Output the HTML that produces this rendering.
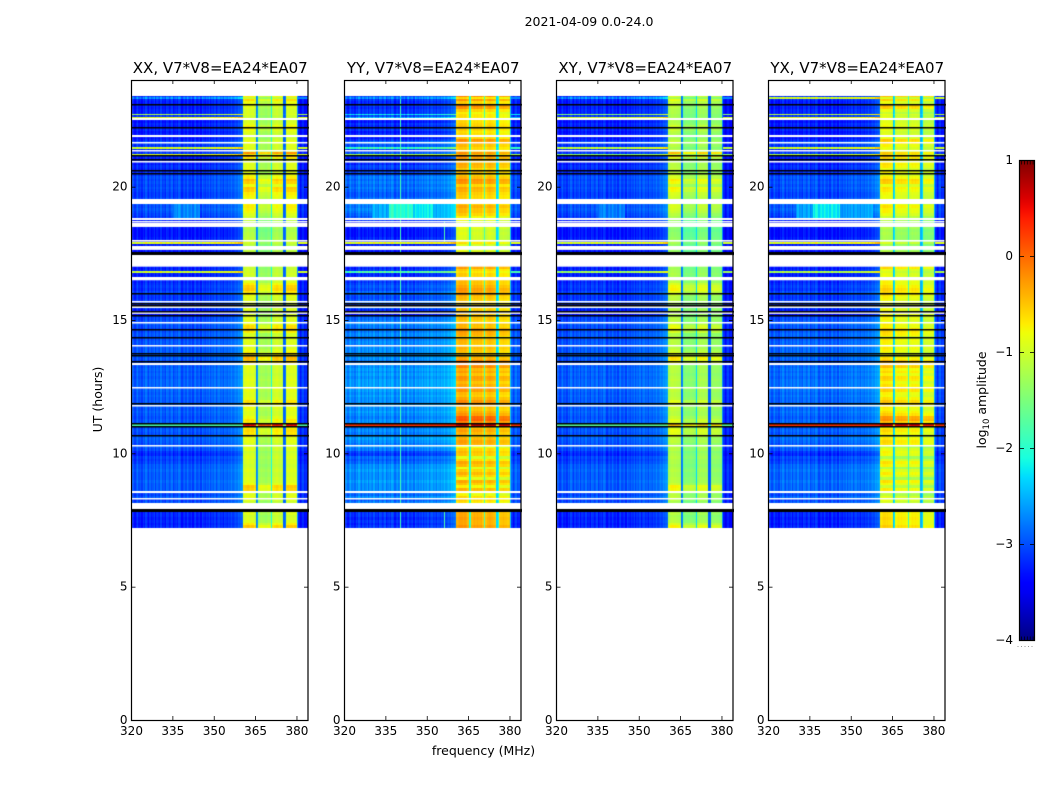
<!DOCTYPE html>
<html>
<head>
<meta charset="utf-8">
<title>2021-04-09 0.0-24.0</title>
<style>
html,body{margin:0;padding:0;background:#fff;width:1050px;height:800px;overflow:hidden}
#figure{position:relative;width:1050px;height:800px}
canvas{position:absolute;display:block}
svg{position:absolute;left:0;top:0}
text{font-family:"DejaVu Sans","Liberation Sans",sans-serif;fill:#000}
</style>
</head>
<body>
<div id="figure">
<canvas id="heat-0" style="left:131px;top:80px" width="178" height="640"></canvas>
<canvas id="heat-1" style="left:344px;top:80px" width="178" height="640"></canvas>
<canvas id="heat-2" style="left:556px;top:80px" width="178" height="640"></canvas>
<canvas id="heat-3" style="left:768px;top:80px" width="178" height="640"></canvas>
<svg id="overlay" width="1050" height="800" viewBox="0 0 1050 800" xmlns="http://www.w3.org/2000/svg">
<defs><linearGradient id="jet-gradient" x1="0" y1="1" x2="0" y2="0"></linearGradient></defs>
<text x="589" y="26" font-size="12.5" text-anchor="middle">2021-04-09 0.0-24.0</text>
<text x="483.5" y="755" font-size="12.5" text-anchor="middle">frequency (MHz)</text>
<text x="0" y="0" font-size="12.5" text-anchor="middle" transform="translate(102,399.5) rotate(-90)">UT (hours)</text>
<text x="0" y="0" font-size="12.5" text-anchor="middle" transform="translate(986,400) rotate(-90)">log<tspan font-size="8.5" dy="3">10</tspan><tspan dy="-3"> amplitude</tspan></text>
</svg>
</div>
<script>
// Axis categories and tick labels
const polarisations = ["XX", "YY", "XY", "YX"];
const panelTitles = ["XX, V7*V8=EA24*EA07", "YY, V7*V8=EA24*EA07", "XY, V7*V8=EA24*EA07", "YX, V7*V8=EA24*EA07"];
const freqTicks = [320, 335, 350, 365, 380];
const timeTicks = [0, 5, 10, 15, 20];
const colorTicks = [1, 0, -1, -2, -3, -4];

// Off-band baseline (log10 amplitude) per polarisation
const lowLevel = [-3.0, -2.78, -3.0, -2.95];
const lowRowGain = [1, 1.7, 1, 1.25];
const outerLevel = [-3.2, -3.0, -3.25, -3.1];
const rippleGain = 1.5;

// Channel-to-channel ripple for channels 320-360 MHz (0.5 MHz steps)
const lowRipple = [-.05,.05,-.1,0,.1,-.05,0,-.1,.05,-.05,.1,0,-.1,.05,-.05,0,.1,-.1,.05,0,
  -.05,.1,-.05,0,-.1,.1,.05,-.05,0,.1,-.1,0,.05,-.05,.1,.05,-.1,0,.05,-.05,
  .1,0,-.05,.05,-.1,.05,.1,-.05,0,.05,-.1,.1,0,-.05,.05,0,.1,-.05,.05,0,
  .1,-.05,.05,.1,0,.05,-.05,.1,.05,0,.1,.05,.15,.05,.1,.15,.1,.2,.15,.2,.25];

// Band channels 360.5-380 MHz per polarisation
const bandXX = [-1.05,-1,-1,-.95,-1,-1.05,-1,-1,-1.1,-2.75,-2.6,-1.4,-1.35,-1.3,-1.35,-1.35,-1.4,-1.35,-1.3,-1.35,-2.1,-1.15,-1.1,-1.1,-1.05,-1.1,-1.15,-1.1,-1.2,-2.9,-2.8,-1.1,-1,-1.05,-1,-1,-1.05,-1,-1.05,-2.6];
const bandYY = [-.7,-.65,-.6,-.6,-.6,-.65,-.6,-.65,-.75,-2.1,-1.9,-.75,-.7,-.65,-.7,-.65,-.7,-.7,-.65,-.8,-1.8,-.8,-.7,-.7,-.65,-.7,-.7,-.75,-.85,-2.3,-2.1,-.9,-.8,-.8,-.75,-.8,-.8,-.85,-.8,-2.4];
const bandXY = [-1.3,-1.25,-1.2,-1.2,-1.25,-1.2,-1.25,-1.25,-1.3,-2.8,-2.7,-1.6,-1.55,-1.5,-1.55,-1.55,-1.5,-1.55,-1.55,-1.6,-2.3,-1.4,-1.35,-1.3,-1.35,-1.3,-1.35,-1.35,-1.4,-2.9,-2.85,-1.5,-1.45,-1.45,-1.4,-1.45,-1.45,-1.5,-1.45,-2.7];
const bandYX = [-1,-.95,-.9,-.9,-.95,-.9,-.95,-.95,-1,-2.4,-2.2,-1.1,-1.05,-1,-1.05,-1,-1.05,-1.05,-1.05,-1.1,-1.9,-1.1,-1.05,-1,-1.05,-1,-1.05,-1.05,-1.15,-2.5,-2.3,-1.25,-1.2,-1.15,-1.2,-1.15,-1.2,-1.2,-1.2,-2.5];

// Row offsets: 0.1 h rows from 7.2 h upward
const rowLow = [-.2,-.25,-.2,-.25,-.2,-.2,-.2,0,0,0,
  -.1,.05,-.05,0,.05,.05,.05,.1,.05,.05,
  .05,.1,.05,.05,-.05,-.1,-.05,-.2,-.15,0,
  .05,0,.05,.1,.05,0,.05,0,.05,.05,
  .05,0,.05,.1,.05,.05,.1,.05,.05,.1,
  .05,.1,.05,.1,.1,.1,.05,.1,.05,.1,
  .05,.05,0,.05,.1,.05,.05,.05,0,.05,
  0,0,.05,0,-.05,0,.05,0,-.05,-.1,
  -.3,-.25,-.1,-.15,-.05,-.1,-.15,-.1,-.05,-.15,
  -.1,-.15,-.2,-.15,-.25,-.25,-.2,-.25,-.2,-.2,
  -.2,-.25,-.25,-.3,-.3,-.25,-.3,-.3,-.25,-.3,
  -.3,-.3,-.25,-.3,-.3,-.2,-.1,-.05,0,.05,
  0,.05,.05,-.05,-.1,-.1,-.05,0,-.05,0,
  -.05,0,-.1,-.15,-.2,-.15,-.25,-.2,-.25,-.1,
  -.1,-.2,-.2,-.1,-.05,-.2,-.3,-.25,-.3,-.2,
  -.25,-.2,-.3,-.2,-.15,-.2,-.2,-.25,-.2,-.25,-.2,-.15];
const rowBand = [.5,.3,.1,.05,0,.1,.15,0,0,0,
  .1,.15,.1,.15,.45,.5,.2,.1,.1,.05,
  .05,.1,.05,0,.05,.05,.1,.05,0,.1,
  .1,.05,.15,.1,.3,.35,.4,.25,.5,.3,
  .35,.2,.1,.1,.15,.2,.3,.35,.15,.1,
  .1,.15,.3,.1,.1,.15,.1,.05,.1,.1,
  .1,.2,.45,.6,.5,.3,.2,.1,.1,.1,
  .1,.1,.05,.3,.45,.4,.2,.1,.1,.05,
  .05,.1,.05,0,.05,.1,.1,.2,.35,.5,
  .45,.3,.1,.1,0,.05,0,-.05,.1,.15,
  0,0,0,-.1,-.1,-.15,-.1,-.05,-.1,-.15,
  -.15,-.2,-.15,-.15,-.1,-.1,0,.1,.2,.25,
  .3,.25,.2,.2,.25,.3,.45,.5,.2,.45,
  .55,.3,.2,.1,.15,.1,.1,.1,.3,.75,
  .8,.1,.05,.1,.2,.1,0,.05,.1,.2,
  .25,.1,.05,0,0,.05,.05,.1,.15,.2,.4,.3];
const rowBandParallel = [.4,.3,.3,.35,.3,.3,.2,0,0,0,
  .1,.05,-.15,.1,.25,-.1,.15,.3,-.2,.1,
  .25,.1,-.2,.2,.3,.05,-.25,.15,.2,.1,
  -.15,.3,.35,.25,-.1,.25,.35,.2,.05,.5,
  .75,.7,.4,.3,.2,.25,.4,.45,.3,.15,
  .2,.4,.55,.3,.2,.35,.4,.2,.35,.25,
  .5,.6,.55,.3,.15,.1,.2,.25,.15,.2,
  .25,.1,.3,.35,.4,.2,.25,.1,.2,.15,
  .2,.15,.1,.05,.1,.15,.2,.3,.35,.4,
  .3,.2,.2,.15,.1,.1,.1,.35,.45,.4,
  .1,0,-.1,-.2,-.25,-.3,-.3,-.2,-.3,-.3,
  -.25,-.3,-.2,-.25,-.25,-.2,-.1,.1,.2,.2,
  .3,.15,.05,.1,.1,.15,.25,.3,.1,.4,
  .45,.25,.1,.2,.1,.25,.3,.2,.35,.55,
  .45,.1,.05,.2,.4,.45,.1,.05,0,.1,
  .15,.1,.05,-.1,0,-.1,.1,.4,.5,.1,.4,.5];

// Bright interference rows: time (h), duration (h), ripple depth, off-band level and band boost per polarisation
const stripeTimes = [11.07, 16.8, 17.89, 21.2, 21.45, 22.57, 22.7, 23.32];
const stripeSpans = [.1, .06, .06, .06, .06, .06, .06, .06];
const stripeRipple = [.3, 2.5, 2.5, 2.5, 2.5, 2.5, 2.5, 2.5];
const stripeLowXX = [-1.8, -1.0, -.9, -.9, -1.0, -.9, -1.2, -2.7];
const stripeLowYY = [.3, -1.8, -.9, -1.2, -1.9, -2.5, -2.2, -2.7];
const stripeLowXY = [-1.7, -1.3, -1.0, -1.4, -1.1, -1.0, -1.4, -2.7];
const stripeLowYX = [.3, -1.2, -.9, -1.1, -1.0, -.9, -1.1, -1.0];
const stripeBoostXX = [1.5, 0, 0, .3, .1, 0, .1, 0];
const stripeBoostYY = [1.4, 0, 0, .2, .1, 0, 0, 0];
const stripeBoostXY = [.8, 0, 0, .2, 0, 0, 0, 0];
const stripeBoostYX = [1.6, 0, 0, .3, .1, .1, .1, 0];

// Localised features: polarisation index, t0, t1, f0, f1, level
const featurePol = [1, 1, 1, 1, 1, 3, 3, 3, 0, 2, 1, 1];
const featureT0 = [18.8, 18.8, 18.8, 18.8, 7.2, 18.8, 18.8, 18.8, 18.8, 18.8, 7.2, 17.9];
const featureT1 = [19.35, 19.35, 19.35, 19.35, 23.4, 19.35, 19.35, 19.35, 19.35, 19.35, 7.9, 18.7];
const featureF0 = [336, 345, 352, 330, 339.8, 336, 330, 346, 335, 335, 356, 356];
const featureF1 = [345, 352, 360.4, 336, 340.2, 346, 336, 358, 345, 345, 356.4, 356.4];
const featureLevel = [-2.0, -2.25, -2.55, -2.55, -2.0, -2.2, -2.6, -2.65, -2.7, -2.75, -2.0, -2.0];

// Flagged (blank) time intervals
const flagStart = [22.5,21.86,21.64,21.34,20.91,19.35,18.75,18.66,18.49,17.94,17.63,17.0,16.49,15.68,15.45,15.23,14.87,14.03,13.31,12.45,11.78,10.28,8.51,8.29,7.9];
const flagEnd = [22.56,21.93,21.69,21.39,20.96,19.54,18.81,18.71,18.63,18.0,17.79,17.45,16.6,15.73,15.51,15.3,14.91,14.08,13.38,12.5,11.82,10.33,8.57,8.34,8.15];

// Times of thin and heavy black rows
const blackTimes = [23.09,22.23,21.19,21.03,20.63,20.52,16.0,15.63,15.58,15.34,15.19,14.65,14.35,13.77,13.68,13.46,11.89,11.14,11.01,10.69];
const heavyBlackTimes = [17.5, 7.87];

const bandSpectra = [bandXX, bandYY, bandXY, bandYX];
const stripeLows = [stripeLowXX, stripeLowYY, stripeLowXY, stripeLowYX];
const stripeBoosts = [stripeBoostXX, stripeBoostYY, stripeBoostXY, stripeBoostYX];
const rowBands = [rowBand, rowBandParallel, rowBand, rowBandParallel];

const panelLeft = [131.5, 344.5, 556.5, 768.5];
const panelWidth = 176.5, plotTop = 80, plotBottom = 720;
const canvasLeft = [131, 344, 556, 768];
const channelStep = .5, rowStep = .1, firstRowTime = 7.2;
const bandFirst = lowRipple.length, bandLast = bandFirst + bandXX.length - 1, channelCount = 128;
const notchLimit = -1.7;

function xScale(p, f) { return panelLeft[p] + (f - 320) / 64 * panelWidth; }
function yScale(t) { return plotBottom - t / 24 * (plotBottom - plotTop); }
function cScale(v) { return 640 - (v + 4) / 5 * 480; }

function ramp(t, pts) {
  for (let i = 1; i < pts.length; i++) {
    if (t <= pts[i][0]) {
      const a = pts[i - 1], b = pts[i];
      return a[1] + (b[1] - a[1]) * (t - a[0]) / (b[0] - a[0]);
    }
  }
  return pts[pts.length - 1][1];
}
const jetR = [[0,0],[.35,0],[.66,1],[.89,1],[1,.5]];
const jetG = [[0,0],[.125,0],[.375,1],[.64,1],[.91,0],[1,0]];
const jetB = [[0,.5],[.11,1],[.34,1],[.65,0],[1,0]];
function jet(v) {
  const t = Math.max(0, Math.min(1, (v + 4) / 5));
  return "rgb(" + Math.round(255 * ramp(t, jetR)) + "," + Math.round(255 * ramp(t, jetG)) + "," + Math.round(255 * ramp(t, jetB)) + ")";
}

function cellValue(p, c, r) {
  const t = firstRowTime + r * rowStep;
  const inBand = c >= bandFirst && c <= bandLast;
  let v;
  if (inBand) {
    const s = bandSpectra[p][c - bandFirst];
    v = s + (s < notchLimit ? 0 : rowBands[p][r]);
  } else if (c < bandFirst) {
    v = lowLevel[p] + lowRipple[c] * rippleGain + rowLow[r] * lowRowGain[p];
  } else {
    v = outerLevel[p] + rowLow[r] * lowRowGain[p] * .6 + lowRipple[c - bandLast] * rippleGain;
  }
  const f = 320 + c * channelStep;
  for (let k = 0; k < featurePol.length; k++) {
    if (featurePol[k] === p && t >= featureT0[k] && t < featureT1[k] && f >= featureF0[k] && f < featureF1[k] && !inBand) {
      v = Math.max(v, featureLevel[k] + lowRipple[c] * rippleGain);
    }
  }
  return v;
}
function stripeValue(p, c, k) {
  if (c >= bandFirst && c <= bandLast) return bandSpectra[p][c - bandFirst] + stripeBoosts[p][k];
  const ripple = c < bandFirst ? lowRipple[c] * stripeRipple[k] : 0;
  return stripeLows[p][k] + ripple;
}

polarisations.forEach(function (pol, p) {
  const ctx = document.getElementById("heat-" + p).getContext("2d");
  const ox = canvasLeft[p], oy = plotTop;
  function channelX(c) { return Math.round(xScale(p, 320 + c * channelStep)) - ox; }
  for (let r = 0; r < rowLow.length; r++) {
    const t = firstRowTime + r * rowStep;
    const y0 = Math.round(yScale(t + rowStep)) - oy, y1 = Math.round(yScale(t)) - oy;
    for (let c = 0; c < channelCount; c++) {
      ctx.fillStyle = jet(cellValue(p, c, r));
      ctx.fillRect(channelX(c), y0, channelX(c + 1) - channelX(c), y1 - y0);
    }
  }
  stripeTimes.forEach(function (t, k) {
    const y0 = Math.round(yScale(t + stripeSpans[k] / 2)) - oy;
    const y1 = Math.round(yScale(t - stripeSpans[k] / 2)) - oy;
    for (let c = 0; c < channelCount; c++) {
      ctx.fillStyle = jet(stripeValue(p, c, k));
      ctx.fillRect(channelX(c), y0, channelX(c + 1) - channelX(c), Math.max(1, y1 - y0));
    }
  });
  ctx.fillStyle = "#fff";
  flagStart.forEach(function (t0, k) {
    const y0 = Math.round(yScale(flagEnd[k])) - oy, y1 = yScale(t0) - oy;
    ctx.fillRect(0, y0, 178, Math.max(1.5, y1 - y0));
  });
  ctx.fillStyle = "#000";
  blackTimes.forEach(function (t) { ctx.fillRect(0, Math.round(yScale(t)) - oy, 178, 1.5); });
  heavyBlackTimes.forEach(function (t) { ctx.fillRect(0, Math.round(yScale(t)) - oy - 1, 178, 3); });
});

const svg = document.getElementById("overlay");
const NS = "http://www.w3.org/2000/svg";
function make(tag, attrs, parent) {
  const el = document.createElementNS(NS, tag);
  for (const k in attrs) el.setAttribute(k, attrs[k]);
  (parent || svg).appendChild(el);
  return el;
}
const gradient = document.getElementById("jet-gradient");
for (let i = 0; i <= 50; i++) {
  make("stop", { offset: (i * 2) + "%", "stop-color": jet(-4 + i / 10) }, gradient);
}

polarisations.forEach(function (pol, p) {
  const L = panelLeft[p], R = L + panelWidth;
  const group = make("g", {});
  
  

  const frame = make("rect", { x: L, y: plotTop + .5, width: panelWidth, height: plotBottom - plotTop, fill: "none", stroke: "#000", "stroke-width": 1.2 }, group);
  
  

  const title = make("text", { x: L + panelWidth / 2 + .5, y: 73, "font-size": 15, "text-anchor": "middle" }, group);
  title.textContent = panelTitles[p];
  
  

  freqTicks.forEach(function (f) {
    const x = xScale(p, f);
    const bottomTick = make("line", { x1: x, x2: x, y1: plotBottom, y2: plotBottom - 4, stroke: "#000", "stroke-width": .8 }, group);
    
    
    const topTick = make("line", { x1: x, x2: x, y1: plotTop, y2: plotTop + 4, stroke: "#000", "stroke-width": .8 }, group);
    
    
    const label = make("text", { x: x, y: 735, "font-size": 12, "text-anchor": "middle" }, group);
    label.textContent = f;
    
    
  });
  timeTicks.forEach(function (t) {
    const y = yScale(t) + .5;
    const leftTick = make("line", { x1: L, x2: L + 4, y1: y, y2: y, stroke: "#000", "stroke-width": .8 }, group);
    
    
    const rightTick = make("line", { x1: R, x2: R - 4, y1: y, y2: y, stroke: "#000", "stroke-width": .8 }, group);
    
    
    const label = make("text", { x: L - 4, y: y + 3.5, "font-size": 12, "text-anchor": "end" }, group);
    label.textContent = t;
    
    
  });
});

const cbar = make("g", {});


const cbarBody = make("rect", { x: 1019.5, y: 160.5, width: 15, height: 480, fill: "url(#jet-gradient)", stroke: "#000", "stroke-width": 1.2 }, cbar);


colorTicks.forEach(function (v) {
  const y = cScale(v) + .5;
  const label = make("text", { x: 1013, y: y + 3.5, "font-size": 12, "text-anchor": "end" }, cbar);
  label.textContent = v < 0 ? "\u2212" + Math.abs(v) : String(v);
  
  
  if (v > -4 && v < 1) {
    const leftDash = make("line", { x1: 1019.5, x2: 1024, y1: y, y2: y, stroke: "#000", "stroke-width": .8 }, cbar);
    
    
    const rightDash = make("line", { x1: 1030, x2: 1034.5, y1: y, y2: y, stroke: "#000", "stroke-width": .8 }, cbar);
    
    
  }
});
[1, -4].forEach(function (v) {
  const y = cScale(v) + .5;
  const dir = v === 1 ? 4 : -4;
  for (let k = 0; k < 5; k++) {
    const x = 1021.5 + k * 2.9;
    const edgeTick = make("line", { x1: x, x2: x, y1: y, y2: y + dir, stroke: "#000", "stroke-width": .7 }, cbar);
    
    
  }
});
const dots = make("line", { x1: 1017.5, x2: 1035, y1: 646.5, y2: 646.5, stroke: "#999", "stroke-width": 1, "stroke-dasharray": "1 2.5" }, cbar);


</script>
</body>
</html>
